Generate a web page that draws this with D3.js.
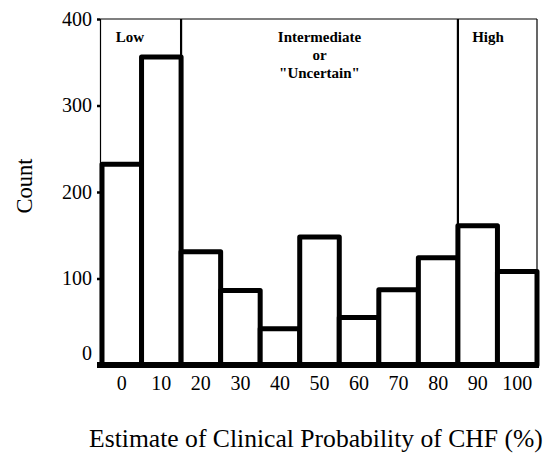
<!DOCTYPE html>
<html>
<head>
<meta charset="utf-8">
<script src="https://cdn.jsdelivr.net/npm/d3@7"></script>
</head>
<body style="margin:0;background:#fff">
<div id="chart"></div>
<script>
// Data
const categories = ["0", "10", "20", "30", "40", "50", "60", "70", "80", "90", "100"];
const counts = [232, 356, 131, 86, 42, 148, 55, 87, 124, 161, 108];
const yTicks = [0, 100, 200, 300, 400];
// probability regions: first and last category of each
const regionNames = [["Low"], ["Intermediate", "or", "\"Uncertain\""], ["High"]];
const regionFrom = ["0", "20", "90"];
const regionTo = ["10", "80", "100"];

const SERIF = "'Liberation Serif', 'Times New Roman', serif";
const W = 546, H = 453;
const svg = d3.select("#chart").append("svg")
  .attr("width", W).attr("height", H)
  .style("font-family", SERIF);

const x = d3.scaleBand()
  .domain(categories)
  .range([102, 537])
  .padding(0);

const y = d3.scaleLinear()
  .domain([0, 400])
  .range([365, 19]);

// region boxes
const regions = regionNames.map((lines, i) => ({lines, from: regionFrom[i], to: regionTo[i]}));
svg.append("line")
  .attr("x1", 100).attr("x2", x(regionTo[2]) + x.bandwidth())
  .attr("y1", y(400)).attr("y2", y(400))
  .attr("stroke", "#000").attr("stroke-width", 1.2);

const labelX = [130, null, 488];
regions.forEach((r, i) => {
  const right = x(r.to) + x.bandwidth();
  svg.append("line")
    .attr("x1", right).attr("x2", right)
    .attr("y1", y(400)).attr("y2", y(0))
    .attr("stroke", "#000").attr("stroke-width", i === 2 ? 1.2 : 2.2);
  const cx = labelX[i] != null ? labelX[i] : (x(r.from) + right) / 2;
  const t = svg.append("text")
    .attr("text-anchor", "middle")
    .style("font-family", SERIF)
    .style("font-weight", "bold")
    .style("font-size", "15px");
  r.lines.forEach((s, j) => {
    t.append("tspan").attr("x", cx).attr("y", 42 + j * 18).text(s);
  });
});

// y axis
const yAxis = svg.append("g")
  .attr("transform", "translate(100,0)")
  .call(d3.axisLeft(y).tickValues(yTicks).tickSize(3).tickPadding(5));
yAxis.select(".domain").attr("stroke-width", 1.2);
yAxis.selectAll(".tick line").attr("stroke-width", 2.5);
yAxis.selectAll("text")
  .style("font-size", "20px")
  .style("font-family", SERIF)
  .attr("dy", d => d === 0 ? "-0.3em" : "0.32em");

// bars
svg.selectAll("rect.bar")
  .data(counts)
  .join("rect")
    .attr("class", "bar")
    .attr("x", (d, i) => x(categories[i]))
    .attr("y", d => y(d))
    .attr("width", x.bandwidth())
    .attr("height", d => y(0) - y(d))
    .attr("fill", "#fff")
    .attr("stroke", "#000")
    .attr("stroke-width", 5)
    .attr("stroke-linejoin", "round");

// thick base line
svg.append("line")
  .attr("x1", 97).attr("x2", 539)
  .attr("y1", y(0)).attr("y2", y(0))
  .attr("stroke", "#000").attr("stroke-width", 6);

// x labels
svg.append("g")
  .selectAll("text")
  .data(categories)
  .join("text")
    .attr("x", d => x(d) + x.bandwidth() / 2)
    .attr("y", 390)
    .attr("text-anchor", "middle")
    .style("font-family", SERIF)
    .style("font-size", "20px")
    .text(d => d);

// axis titles, sized to the widths seen in the picture
function fit(sel, target, base) {
  const w = sel.node().getComputedTextLength();
  sel.style("font-size", (base * target / w).toFixed(2) + "px");
}

const yTitle = svg.append("text")
  .attr("transform", "translate(32,186) rotate(-90)")
  .attr("text-anchor", "middle")
  .style("font-family", SERIF)
  .style("font-size", "22px")
  .text("Count");
fit(yTitle, 55, 22);

const xTitle = svg.append("text")
  .attr("x", 316).attr("y", 447)
  .attr("text-anchor", "middle")
  .style("font-family", SERIF)
  .style("font-size", "21px")
  .text("Estimate of Clinical Probability of CHF (%)");
fit(xTitle, 454, 21);
</script>
</body>
</html>
